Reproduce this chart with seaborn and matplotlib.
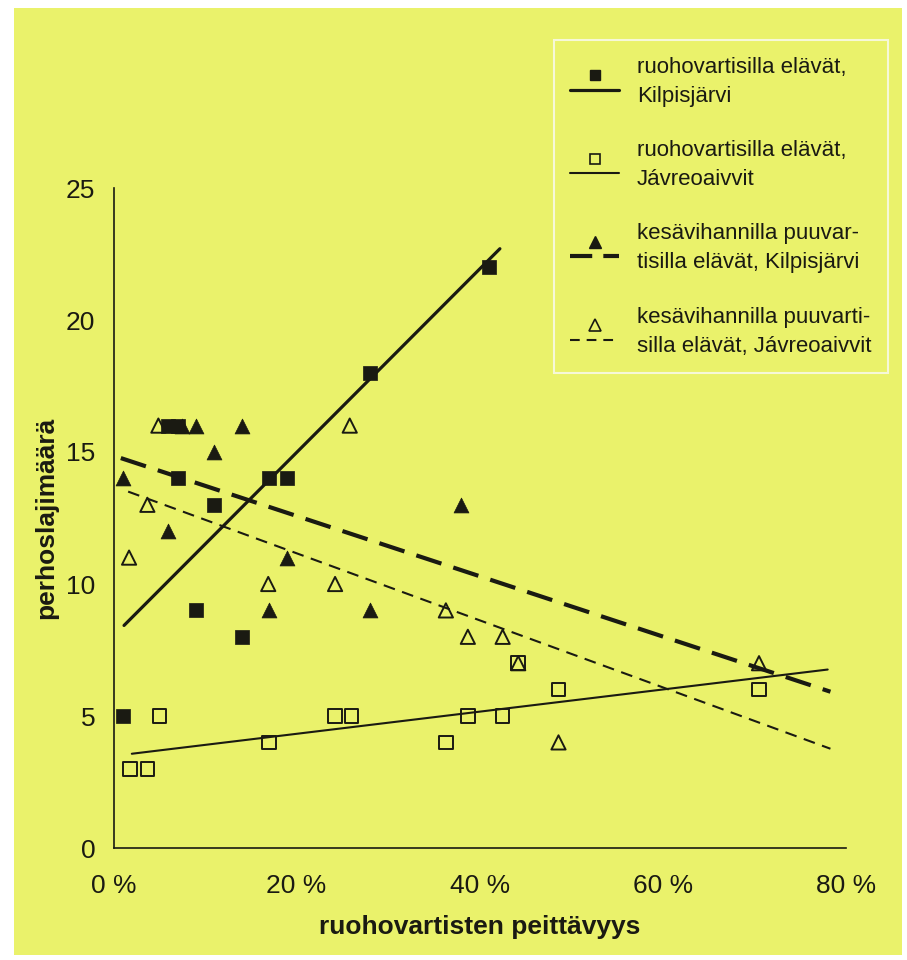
import numpy as np
import pandas as pd
import matplotlib
matplotlib.use("Agg")
import matplotlib.pyplot as plt
import seaborn as sns
from matplotlib.lines import Line2D
from matplotlib.patches import Rectangle
from matplotlib.legend_handler import HandlerBase
from matplotlib.ticker import FuncFormatter

# ruohovartisilla elävät, Kilpisjärvi (filled squares)
kilp_grass_x = [1, 6, 7, 7, 9, 11, 14, 17, 19, 28, 41]
kilp_grass_y = [5, 16, 16, 14, 9, 13, 8, 14, 14, 18, 22]

# ruohovartisilla elävät, Jávreoaivvit (open squares)
javr_grass_x = [1.8, 3.7, 5, 17, 24.2, 26, 36.3, 38.7, 42.5, 44.2, 48.6, 70.5]
javr_grass_y = [3, 3, 5, 4, 5, 5, 4, 5, 5, 7, 6, 6]

# kesävihannilla puuvartisilla elävät, Kilpisjärvi (filled triangles)
kilp_wood_x = [1, 6, 7.5, 9, 11, 14, 17, 19, 28, 38]
kilp_wood_y = [14, 12, 16, 16, 15, 16, 9, 11, 9, 13]

# kesävihannilla puuvartisilla elävät, Jávreoaivvit (open triangles)
javr_wood_x = [1.7, 3.7, 4.9, 16.9, 24.2, 25.8, 36.3, 38.7, 42.5, 44.2, 48.6, 70.5]
javr_wood_y = [11, 13, 16, 10, 10, 16, 9, 8, 8, 7, 4, 7]

# trend lines (start / end)
kilp_grass_trend_x = [1.15, 42.2]
kilp_grass_trend_y = [8.43, 22.7]
javr_grass_trend_x = [2.0, 78.0]
javr_grass_trend_y = [3.57, 6.76]
kilp_wood_trend_x = [0.8, 78.3]
kilp_wood_trend_y = [14.77, 5.92]
javr_wood_trend_x = [1.6, 78.3]
javr_wood_trend_y = [13.5, 3.76]

labels = [
    "ruohovartisilla elävät,\nKilpisjärvi",
    "ruohovartisilla elävät,\nJávreoaivvit",
    "kesävihannilla puuvar-\ntisilla elävät, Kilpisjärvi",
    "kesävihannilla puuvarti-\nsilla elävät, Jávreoaivvit",
]

x_ticks = [0, 20, 40, 60, 80]
y_ticks = [0, 5, 10, 15, 20, 25]

BG = "#EAF26B"
INK = "#1a1a12"

sns.set_style("white")
plt.rcParams["font.family"] = ["Liberation Sans", "DejaVu Sans"]
plt.rcParams["lines.scale_dashes"] = False

fig = plt.figure(figsize=(9.07, 9.6), dpi=100, facecolor="white")
fig.patches.append(Rectangle((14 / 907, 5 / 960), 888 / 907, 947 / 960,
                             transform=fig.transFigure, facecolor=BG,
                             edgecolor="none", zorder=-10))
ax = fig.add_axes([113.5 / 907, 1 - 848 / 960, (846 - 113.5) / 907, (848 - 188) / 960])
ax.set_facecolor("none")

thick_dash = (19, 9)
thin_dash = (8.5, 5.5)

# trend lines
sns.lineplot(x=kilp_grass_trend_x, y=kilp_grass_trend_y, ax=ax, color=INK, linewidth=2.3)
sns.lineplot(x=javr_grass_trend_x, y=javr_grass_trend_y, ax=ax, color=INK, linewidth=1.5)
sns.lineplot(x=kilp_wood_trend_x, y=kilp_wood_trend_y, ax=ax, color=INK, linewidth=3.0)
ax.lines[-1].set_dashes(thick_dash)
sns.lineplot(x=javr_wood_trend_x, y=javr_wood_trend_y, ax=ax, color=INK, linewidth=1.5)
ax.lines[-1].set_dashes(thin_dash)

# points
sns.scatterplot(x=kilp_grass_x, y=kilp_grass_y, ax=ax, marker="s", s=100,
                color=INK, edgecolor=INK, linewidth=0.5, zorder=3)
sns.scatterplot(x=javr_grass_x, y=javr_grass_y, ax=ax, marker="s", s=95,
                color="none", edgecolor=INK, linewidth=1.4, zorder=3)
sns.scatterplot(x=kilp_wood_x, y=kilp_wood_y, ax=ax, marker="^", s=115,
                color=INK, edgecolor=INK, linewidth=0.5, zorder=3)
sns.scatterplot(x=javr_wood_x, y=javr_wood_y, ax=ax, marker="^", s=105,
                color="none", edgecolor=INK, linewidth=1.4, zorder=3)

ax.set_xlim(0, 80)
ax.set_ylim(0, 25)
ax.set_xticks(x_ticks)
ax.set_yticks(y_ticks)
ax.xaxis.set_major_formatter(FuncFormatter(lambda v, p: f"{v:.0f} %"))
ax.tick_params(axis="both", direction="out", length=5, width=1.1, color=INK,
               labelsize=19, labelcolor=INK)
ax.tick_params(axis="x", pad=14)
ax.tick_params(axis="y", pad=8)
for side in ["top", "right"]:
    ax.spines[side].set_visible(False)
for side in ["left", "bottom"]:
    ax.spines[side].set_color(INK)
    ax.spines[side].set_linewidth(1.2)

ax.set_xlabel("ruohovartisten peittävyys", fontsize=19, fontweight="bold",
              color=INK, labelpad=12)
ax.set_ylabel("perhoslajimäärä", fontsize=19, fontweight="bold",
              color=INK, labelpad=6)


class MarkerAboveLine(HandlerBase):
    def create_artists(self, legend, orig_handle, xdescent, ydescent,
                       width, height, fontsize, trans):
        ymid = (height - ydescent) / 2
        line = Line2D([-xdescent, width - xdescent], [ymid - 0.35 * fontsize] * 2)
        line.update_from(orig_handle)
        line.set_marker("None")
        mark = Line2D([width / 2 - xdescent], [ymid + 0.3 * fontsize])
        mark.update_from(orig_handle)
        mark.set_linestyle("None")
        line.set_transform(trans)
        mark.set_transform(trans)
        return [line, mark]


h1 = Line2D([], [], color=INK, linewidth=2.3, marker="s", markersize=7,
            markerfacecolor=INK, markeredgecolor=INK)
h2 = Line2D([], [], color=INK, linewidth=1.5, marker="s", markersize=7,
            markerfacecolor="none", markeredgecolor=INK, markeredgewidth=1.2)
h3 = Line2D([], [], color=INK, linewidth=3.0, marker="^", markersize=8,
            markerfacecolor=INK, markeredgecolor=INK)
h3.set_dashes((16, 8))
h4 = Line2D([], [], color=INK, linewidth=1.5, marker="^", markersize=8,
            markerfacecolor="none", markeredgecolor=INK, markeredgewidth=1.2)
h4.set_dashes((7, 5))
handles = [h1, h2, h3, h4]

leg = ax.legend(handles, labels, loc="upper right",
                bbox_to_anchor=(888 / 907, 1 - 40 / 960),
                bbox_transform=fig.transFigure, borderaxespad=0,
                fontsize=16, frameon=True, fancybox=False, framealpha=1,
                facecolor=BG, edgecolor="#F6F8D8", handlelength=2.2,
                handletextpad=0.8, borderpad=0.75, labelspacing=1.5,
                handler_map={Line2D: MarkerAboveLine()})
leg.get_frame().set_linewidth(1.5)
for t in leg.get_texts():
    t.set_color(INK)
    t.set_linespacing(1.5)

fig.savefig("out.png", dpi=100, facecolor=fig.get_facecolor())
